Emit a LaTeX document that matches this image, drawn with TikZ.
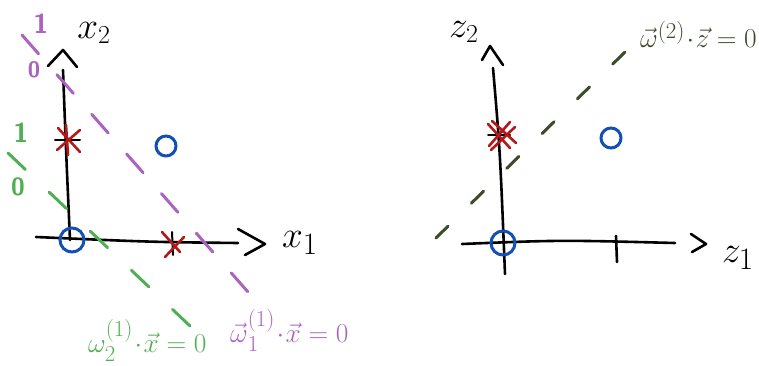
\documentclass[tikz,border=0pt]{standalone}
\usepackage{graphicx}
\usepackage{amsmath}
\definecolor{pur}{RGB}{170,100,190}
\definecolor{grn}{RGB}{80,175,85}
\definecolor{blu}{RGB}{20,80,180}
\definecolor{rd}{RGB}{180,25,25}
\definecolor{olv}{RGB}{60,75,40}
\newcommand{\bigtxt}[2]{\scalebox{#1}{\fontsize{24.88}{28}\selectfont #2}}
\tikzset{
  axis/.style={line width=2.6pt, line cap=round, black},
  tip/.style={line width=2.6pt, line cap=round, line join=round, black},
  pdash/.style={pur, line width=3pt, line cap=round, dash pattern=on 25pt off 27.8pt},
  gdash/.style={grn, line width=3pt, line cap=round, dash pattern=on 24pt off 32.75pt},
  odash/.style={olv, line width=3pt, line cap=round, dash pattern=on 17pt off 32.6pt},
  ring/.style={circle, draw=blu, line width=3pt, minimum size=#1, inner sep=0pt},
  lbl/.style={inner sep=0pt},
  star/.style={rd, line width=2.6pt, line cap=round},
}
\begin{document}
\begin{tikzpicture}[x=1pt,y=-1pt]
\useasboundingbox (0,0) rectangle (759,366);
% ---------- left plot ----------
\coordinate (Ltop) at (63,70);
\coordinate (Lbot) at (70,240);
\coordinate (Lleft) at (36,237);
\coordinate (Lright) at (238,243);
\draw[axis] (Ltop) .. controls (66,150) .. (Lbot);
\draw[axis] (Lleft) .. controls (150,242) .. (Lright);
\coordinate (La1) at (48,66); \coordinate (La2) at (63,50); \coordinate (La3) at (77,67);
\draw[tip] (La1) -- (La2) -- (La3);
\coordinate (Lb1) at (238,229); \coordinate (Lb2) at (265,244); \coordinate (Lb3) at (245,255);
\draw[tip] (Lb1) -- (Lb2) -- (Lb3);
\node[lbl] (x2) at (94,33) {\bigtxt{1.5}{$x_{\scriptscriptstyle 2}$}};
\node[lbl] (x1) at (300,243) {\bigtxt{1.5}{$x_{1}$}};
% ticks
\coordinate (t1a) at (55,140); \coordinate (t1b) at (80,140);
\draw[axis, line width=2pt] (t1a) -- (t1b);
\coordinate (t2a) at (172,232); \coordinate (t2b) at (173,255);
\draw[axis, line width=2pt] (t2a) -- (t2b);
% stars
\coordinate (s1a) at (58,128); \coordinate (s1b) at (80,152);
\coordinate (s1c) at (57,150); \coordinate (s1d) at (80,130);
\coordinate (s1e) at (66,125); \coordinate (s1f) at (68,155);
\draw[star] (s1a) -- (s1b) (s1c) -- (s1d) (s1e) -- (s1f);
\coordinate (s2a) at (162,232); \coordinate (s2b) at (180,252);
\coordinate (s2c) at (165,257); \coordinate (s2d) at (184,237);
\draw[star] (s2a) -- (s2b) (s2c) -- (s2d);
% circles
\node[ring=24pt] (o1) at (72,240) {};
\node[ring=20pt] (o2) at (166,146) {};
% purple dashed line
\coordinate (p1) at (22,35); \coordinate (p2) at (248,292);
\draw[pdash] (p1) -- (p2);
\node[lbl, text=pur] (p1lab) at (41,24) {\bigtxt{1.1}{\sffamily\bfseries 1}};
\node[lbl, text=pur] (p0lab) at (34,70) {\bigtxt{0.9}{\sffamily\bfseries 0}};
% green dashed line
\coordinate (g1) at (8,153); \coordinate (g2) at (190,326);
\draw[gdash] (g1) -- (g2);
\node[lbl, text=grn] (g1lab) at (21,133) {\bigtxt{1.1}{\sffamily\bfseries 1}};
\node[lbl, text=grn] (g0lab) at (18,187) {\bigtxt{1.0}{\sffamily\bfseries 0}};
% labels
\node[lbl, text=grn, anchor=base west] (glab) at (88,352) {\bigtxt{1.1}{$\omega^{(1)}_2\!\cdot\!\vec{x}=0$}};
\node[lbl, text=pur, anchor=base west] (plab) at (230,342) {\bigtxt{1.1}{$\vec{\omega}{}^{(1)}_1\!\cdot\!\vec{x}=0$}};
% ---------- right plot ----------
\coordinate (Rtop) at (493,68);
\coordinate (Rbot) at (505,274);
\coordinate (Rleft) at (462,244);
\coordinate (Rright) at (675,243);
\draw[axis] (Rtop) .. controls (500,150) .. (Rbot);
\draw[axis] (Rleft) .. controls (560,240) .. (Rright);
\coordinate (Ra1) at (482,60); \coordinate (Ra2) at (490,46); \coordinate (Ra3) at (503,65);
\draw[tip] (Ra1) -- (Ra2) -- (Ra3);
\coordinate (Rb1) at (691,234); \coordinate (Rb2) at (706,244); \coordinate (Rb3) at (692,252);
\draw[tip] (Rb1) -- (Rb2) -- (Rb3);
\node[lbl] (z2) at (464,32) {\bigtxt{1.5}{$z_{\scriptscriptstyle 2}$}};
\node[lbl] (z1) at (738,258) {\bigtxt{1.5}{$z_{1}$}};
\coordinate (t3a) at (616,236); \coordinate (t3b) at (617,262);
\draw[axis] (t3a) -- (t3b);
\coordinate (t4a) at (488,135); \coordinate (t4b) at (510,135);
\draw[axis, line width=2pt] (t4a) -- (t4b);
% double star
\coordinate (d1a) at (488,124); \coordinate (d1b) at (510,148);
\coordinate (d1c) at (492,121); \coordinate (d1d) at (516,143);
\coordinate (d1e) at (489,146); \coordinate (d1f) at (510,122);
\coordinate (d1g) at (491,150); \coordinate (d1h) at (515,127);
\draw[star] (d1a) -- (d1b) (d1c) -- (d1d) (d1e) -- (d1f) (d1g) -- (d1h);
\node[ring=24pt] (o3) at (503,243) {};
\node[ring=20pt] (o4) at (611,138) {};
% olive dashed line
\coordinate (q1) at (436,238); \coordinate (q2) at (625,52);
\draw[odash] (q1) -- (q2);
\node[lbl, text=olv, anchor=base east] (olab) at (757,48) {\bigtxt{1.1}{$\vec{\omega}{}^{(2)}\!\cdot\!\vec{z}=0$}};
\end{tikzpicture}
\end{document}
